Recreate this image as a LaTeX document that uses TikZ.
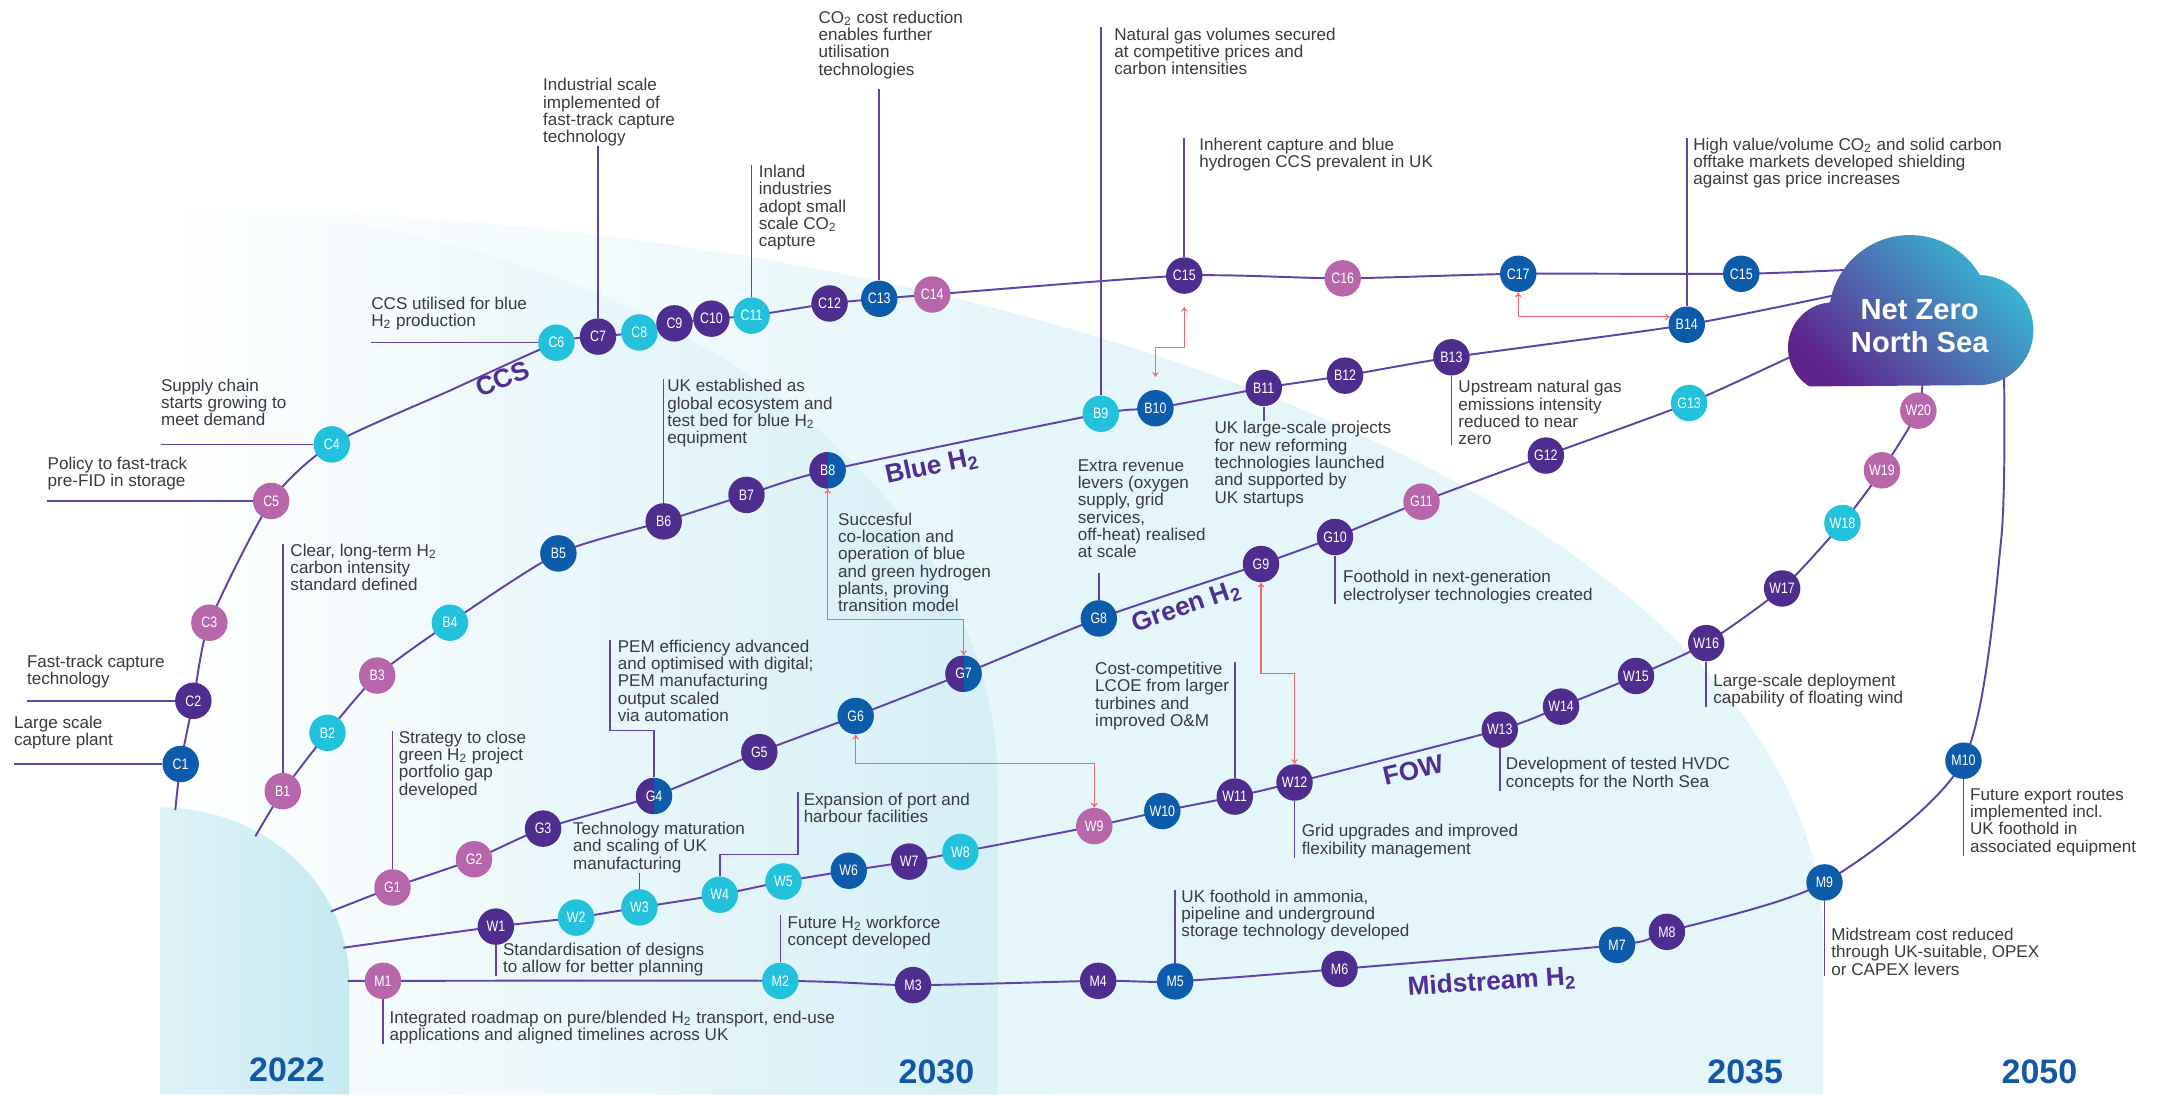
\documentclass[tikz,border=0pt]{standalone}
\usepackage{fontspec}
\setmainfont{Liberation Sans}
\newfontfamily\stopfont[FakeStretch=0.82]{Liberation Sans}
\usetikzlibrary{arrows.meta}

\definecolor{cpurple}{RGB}{79,45,143}
\definecolor{cblue}{RGB}{13,92,171}
\definecolor{ccyan}{RGB}{34,193,220}
\definecolor{cpink}{RGB}{184,102,172}
\definecolor{cline}{RGB}{98,66,168}
\definecolor{cred}{RGB}{240,104,104}
\definecolor{ctext}{RGB}{58,58,64}
\definecolor{clabel}{RGB}{80,46,150}
\definecolor{cyear}{RGB}{20,88,165}
\definecolor{bandA}{RGB}{228,246,250}
\definecolor{bandB}{RGB}{212,239,246}
\definecolor{bandCl}{RGB}{222,243,248}
\definecolor{bandCr}{RGB}{196,234,242}
\definecolor{cloudL}{RGB}{95,35,140}
\definecolor{cloudR}{RGB}{55,190,215}

\pgfdeclarelayer{bg}
\pgfdeclarelayer{rails}
\pgfsetlayers{bg,rails,main}

\tikzset{
  milestone/.style={circle, minimum size=0.66cm, inner sep=0pt, text=white,
    font=\stopfont\fontsize{7.8}{8}\selectfont},
  mpurple/.style={milestone, fill=cpurple},
  mblue/.style={milestone, fill=cblue},
  mcyan/.style={milestone, fill=ccyan},
  mpink/.style={milestone, fill=cpink},
  msplit/.style={milestone, fill=cblue, path picture={
    \fill[cpurple] (path picture bounding box.south west) rectangle (path picture bounding box.north);}},
  txt/.style={anchor=north west, align=left, inner sep=0pt, text=ctext,
    font=\fontsize{8.8}{8.9}\selectfont},
  track/.style={draw=cline, line width=1pt},
  lead/.style={draw=cline, line width=0.8pt},
  link/.style={draw=cred, line width=0.6pt, <->, >={To[length=2.4pt, width=3.4pt]}},
  tracklabel/.style={text=clabel, font=\bfseries\fontsize{13.5}{14}\selectfont},
  year/.style={text=cyear, font=\bfseries\fontsize{17.5}{18}\selectfont},
}

\begin{document}
\begin{tikzpicture}[x=0.025cm, y=-0.025cm]
\useasboundingbox (0,0) rectangle (1568,793);

% horizon bands
\begin{pgfonlayer}{bg}
  \fill[white] (0,0) rectangle (1568,793);
  \fill[bandA] (116,793) -- (116,152) .. controls (781,152) and (1321,389) .. (1321,681) -- (1321,793) -- cycle;
  \begin{scope}
    \clip (116,793) -- (116,152) .. controls (781,152) and (1321,389) .. (1321,681) -- (1321,793) -- cycle;
    \shade[left color=white, right color=bandA] (116,0) rectangle (760,793);
  \end{scope}
  \shade[left color=white, right color=bandB] (116,793) -- (116,151) .. controls (451,151) and (723,339) .. (723,570) -- (723,793) -- cycle;
  \shade[left color=bandCl, right color=bandCr] (116,793) -- (116,585) .. controls (192,585) and (253,641) .. (253,711) -- (253,793) -- cycle;
\end{pgfonlayer}

% cloud
\begin{scope}[shift={(1385,280)}, x=0.025cm, y=0.025cm]
  \shade[left color=cloudL, right color=cloudR, shading angle=135]
    (-73.96,0) arc[start angle=238, end angle=94.4, radius=33]
    arc[start angle=170.2, end angle=30.5, radius=58.8]
    arc[start angle=88.4, end angle=-90, radius=39.9] -- cycle;
\end{scope}
\node[text=white, align=center, font=\bfseries\fontsize{15}{17}\selectfont] (nz) at (1391,236) {Net Zero\\North Sea};

% CCS
\node[mblue] (C1) at (130.9,553.6) {C1};
\node[mpurple] (C2) at (140.1,507.8) {C2};
\node[mpink] (C3) at (151.7,451.2) {C3};
\node[mpink] (C5) at (196.5,363) {C5};
\node[mcyan] (C4) at (240.4,322) {C4};
\node[mcyan] (C6) at (403.2,248.3) {C6};
\node[mpurple] (C7) at (433.3,243.9) {C7};
\node[mcyan] (C8) at (463.3,240.9) {C8};
\node[mpurple] (C9) at (488.7,234.3) {C9};
\node[mpurple] (C10) at (515.5,230.9) {C10};
\node[mcyan] (C11) at (544.6,228.7) {C11};
\node[mpurple] (C12) at (601.1,219.9) {C12};
\node[mblue] (C13) at (637.1,216.5) {C13};
\node[mpink] (C14) at (675.5,213.4) {C14};
\node[mpurple] (C15) at (858.1,199.7) {C15};
\node[mpink] (C16) at (972.9,201.7) {C16};
\node[mblue] (C17) at (1100.1,198.4) {C17};
\node[mblue] (C15b) at (1261.7,198.4) {C15};

% blue hydrogen
\node[mpink] (B1) at (204.9,573.3) {B1};
\node[mcyan] (B2) at (237.3,531) {B2};
\node[mpink] (B3) at (273.3,489.5) {B3};
\node[mcyan] (B4) at (326,451.2) {B4};
\node[mblue] (B5) at (404.6,401) {B5};
\node[mpurple] (B6) at (480.9,377.8) {B6};
\node[mpurple] (B7) at (540.9,358.6) {B7};
\node[msplit] (B8) at (599.7,340.8) {B8};
\node[mcyan] (B9) at (797.6,299.8) {B9};
\node[mblue] (B10) at (837.2,295.8) {B10};
\node[mpurple] (B11) at (915.7,281.1) {B11};
\node[mpurple] (B12) at (974.6,272.2) {B12};
\node[mpurple] (B13) at (1051.7,258.9) {B13};
\node[mblue] (B14) at (1222.2,235.3) {B14};

% green hydrogen
\node[mpink] (G1) at (284.4,643.1) {G1};
\node[mpink] (G2) at (343.5,622.6) {G2};
\node[mpurple] (G3) at (393.5,600.4) {G3};
\node[msplit] (G4) at (473.9,576.8) {G4};
\node[mpurple] (G5) at (550.2,545) {G5};
\node[mblue] (G6) at (620,518.8) {G6};
\node[msplit] (G7) at (698.2,488.2) {G7};
\node[mblue] (G8) at (796.2,448.1) {G8};
\node[mpurple] (G9) at (913.7,408.7) {G9};
\node[mpurple] (G10) at (967.3,389.1) {G10};
\node[mpink] (G11) at (1030,363.5) {G11};
\node[mpurple] (G12) at (1120.1,330.1) {G12};
\node[mcyan] (G13) at (1223.9,292) {G13};

% offshore wind
\node[mpurple] (W1) at (359.3,671.4) {W1};
\node[mcyan] (W2) at (417.5,664.9) {W2};
\node[mcyan] (W3) at (463.3,657.5) {W3};
\node[mcyan] (W4) at (521.5,648.3) {W4};
\node[mcyan] (W5) at (567.7,638.7) {W5};
\node[mblue] (W6) at (615,630.9) {W6};
\node[mpurple] (W7) at (658.8,624.3) {W7};
\node[mcyan] (W8) at (695.9,617.3) {W8};
\node[mpink] (W9) at (792.9,598.6) {W9};
\node[mblue] (W10) at (842.2,587.7) {W10};
\node[mpurple] (W11) at (894.7,577.2) {W11};
\node[mpurple] (W12) at (938,567) {W12};
\node[mpurple] (W13) at (1086.7,528.7) {W13};
\node[mpurple] (W14) at (1131.1,512) {W14};
\node[mpurple] (W15) at (1185.4,489.8) {W15};
\node[mpurple] (W16) at (1236.3,466) {W16};
\node[mpurple] (W17) at (1291.3,426.4) {W17};
\node[mcyan] (W18) at (1335,379) {W18};
\node[mpink] (W19) at (1363.6,340.8) {W19};
\node[mpink] (W20) at (1390,297.6) {W20};

% midstream
\node[mpink] (M1) at (277.5,710.7) {M1};
\node[mcyan] (M2) at (565.4,710.7) {M2};
\node[mpurple] (M3) at (661.6,713.8) {M3};
\node[mpurple] (M4) at (795.7,710.7) {M4};
\node[mblue] (M5) at (851.5,711.1) {M5};
\node[mpurple] (M6) at (970.6,702.1) {M6};
\node[mblue] (M7) at (1171.7,684.7) {M7};
\node[mpurple] (M8) at (1207.8,675.2) {M8};
\node[mblue] (M9) at (1322,639.4) {M9};
\node[mblue] (M10) at (1422.7,551.2) {M10};

\coordinate (sC) at (127,587);
\coordinate (kC) at (326,283);
\coordinate (eC) at (1350,195);
\coordinate (sB) at (185,606);
\coordinate (eB) at (1345,210.6);
\coordinate (sG) at (239.6,660.5);
\coordinate (eG) at (1305,255);
\coordinate (sW) at (248.8,686.7);
\coordinate (eW) at (1393,272);
\coordinate (sM) at (255.7,710.7);
\coordinate (kM) at (1450,391);
\coordinate (eM) at (1452,266);

% notes
\node[txt] (tC1) at (10,518.7) {Large scale\\capture plant};
\node[txt] (tC2) at (19.3,474.4) {Fast-track capture\\technology};
\node[txt] (tC5) at (34.3,330.7) {Policy to fast-track\\pre-FID in storage};
\node[txt] (tC4) at (116.4,274.2) {Supply chain\\starts growing to\\meet demand};
\node[txt] (tC6) at (268.8,214.9) {CCS utilised for blue\\H\textsubscript{2} production};
\node[txt] (tC7) at (393.2,56.5) {Industrial scale\\implemented of\\fast-track capture\\technology};
\node[txt] (tC11) at (549.5,119.5) {Inland\\industries\\adopt small\\scale CO\textsubscript{2}\\capture};
\node[txt] (tC13) at (592.8,7.6) {CO\textsubscript{2} cost reduction\\enables further\\utilisation\\technologies};
\node[txt] (tB9) at (807.2,19.8) {Natural gas volumes secured\\at competitive prices and\\carbon intensities};
\node[txt] (tC15) at (868.8,99.7) {Inherent capture and blue\\hydrogen CCS prevalent in UK};
\node[txt] (tB14) at (1226.7,99.7) {High value/volume CO\textsubscript{2} and solid carbon\\offtake markets developed shielding\\against gas price increases};
\node[txt] (tB1) at (210.2,393.9) {Clear, long-term H\textsubscript{2}\\carbon intensity\\standard defined};
\node[txt] (tB6) at (483.3,274.7) {UK established as\\global ecosystem and\\test bed for blue H\textsubscript{2}\\equipment};
\node[txt] (tB8) at (607,371.4) {Succesful\\co-location and\\operation of blue\\and green hydrogen\\plants, proving\\transition model};
\node[txt] (tG8) at (780.7,332.7) {Extra revenue\\levers (oxygen\\supply, grid\\services,\\off-heat) realised\\at scale};
\node[txt] (tB11) at (879.8,305.2) {UK large-scale projects\\for new reforming\\technologies launched\\and supported by\\UK startups};
\node[txt] (tB13) at (1056.5,275.5) {Upstream natural gas\\emissions intensity\\reduced to near\\zero};
\node[txt] (tG1) at (288.7,529.4) {Strategy to close\\green H\textsubscript{2} project\\portfolio gap\\developed};
\node[txt] (tG4) at (447.4,463.4) {PEM efficiency advanced\\and optimised with digital;\\PEM manufacturing\\output scaled\\via automation};
\node[txt] (tG10) at (972.9,413) {Foothold in next-generation\\electrolyser technologies created};
\node[txt] (tW1) at (364.2,682.9) {Standardisation of designs\\to allow for better planning};
\node[txt] (tW3) at (415,595.4) {Technology maturation\\and scaling of UK\\manufacturing};
\node[txt] (tW4) at (582.1,574.2) {Expansion of port and\\harbour facilities};
\node[txt] (tW11) at (793.3,479.6) {Cost-competitive\\LCOE from larger\\turbines and\\improved O\&M};
\node[txt] (tW12) at (943,597.2) {Grid upgrades and improved\\flexibility management};
\node[txt] (tW13) at (1090.9,548.6) {Development of tested HVDC\\concepts for the North Sea};
\node[txt] (tW16) at (1241.2,488) {Large-scale deployment\\capability of floating wind};
\node[txt] (tM1) at (282,732.2) {Integrated roadmap on pure/blended H\textsubscript{2} transport, end-use\\applications and aligned timelines across UK};
\node[txt] (tM2) at (570.4,663.2) {Future H\textsubscript{2} workforce\\concept developed};
\node[txt] (tM5) at (855.8,644.6) {UK foothold in ammonia,\\pipeline and underground\\storage technology developed};
\node[txt] (tM9) at (1326.7,672.2) {Midstream cost reduced\\through UK-suitable, OPEX\\or CAPEX levers};
\node[txt] (tM10) at (1427.2,571.2) {Future export routes\\implemented incl.\\UK foothold in\\associated equipment};

% track names and years
\node[tracklabel, rotate=22] (lCCS) at (364.2,274.7) {CCS};
\node[tracklabel, rotate=12] (lB) at (675.2,338.3) {Blue H\textsubscript{2}};
\node[tracklabel, rotate=19] (lG) at (859.8,439.9) {Green H\textsubscript{2}};
\node[tracklabel, rotate=13] (lW) at (1024,558) {FOW};
\node[tracklabel, rotate=4] (lM) at (1081,712) {Midstream H\textsubscript{2}};
\node[year] (y22) at (207.9,775.5) {2022};
\node[year] (y30) at (678.5,776.3) {2030};
\node[year] (y35) at (1264.5,776.3) {2035};
\node[year] (y50) at (1477.7,776.3) {2050};

\begin{pgfonlayer}{rails}
  \draw[track] plot[smooth, tension=0.4] coordinates {(sC) (C1) (C2) (C3) (C5) (C4) (kC) (C6) (C7) (C8) (C9) (C10) (C11) (C12) (C13) (C14) (C15) (C16) (C17) (C15b) (eC)};
  \draw[track] plot[smooth, tension=0.4] coordinates {(sB) (B1) (B2) (B3) (B4) (B5) (B6) (B7) (B8) (B9) (B10) (B11) (B12) (B13) (B14) (eB)};
  \draw[track] plot[smooth, tension=0.4] coordinates {(sG) (G1) (G2) (G3) (G4) (G5) (G6) (G7) (G8) (G9) (G10) (G11) (G12) (G13) (eG)};
  \draw[track] plot[smooth, tension=0.4] coordinates {(sW) (W1) (W2) (W3) (W4) (W5) (W6) (W7) (W8) (W9) (W10) (W11) (W12) (W13) (W14) (W15) (W16) (W17) (W18) (W19) (W20) (eW)};
  \draw[track] plot[smooth, tension=0.45] coordinates {(sM) (M1) (M2) (M3) (M4) (M5) (M6) (M7) (M8) (M9) (M10) (kM) (eM)};

  \draw[lead] (C1) -- (C1 -| tC1.west);
  \draw[lead] (C2) -- (C2 -| tC2.west);
  \draw[lead] (C5) -- (C5 -| tC5.west);
  \draw[lead] (C4) -- (C4 -| tC4.west);
  \draw[lead] (C6) -- (C6 -| tC6.west);
  \draw[lead] (C7) -- (C7 |- tC7.south);
  \draw[lead] (C11) -- (C11 |- tC11.north);
  \draw[lead, shorten >=0.18cm] (C13) -- (C13 |- tC13.south);
  \draw[lead] (B9) -- (B9 |- tB9.north);
  \draw[lead] (C15) -- (C15 |- tC15.north);
  \draw[lead] (B14) -- (B14 |- tB14.north);
  \draw[lead] (B1) -- (B1 |- tB1.north);
  \draw[lead] (B6) -- (B6 |- tB6.north);
  \draw[lead] (B11) -- (B11 |- tB11.north);
  \draw[lead] (B13) -- (B13 |- tB13.south);
  \draw[lead, shorten >=0.27cm] (G8) -- (G8 |- tG8.south);
  \draw[lead] (G1) -- (G1 |- tG1.north);
  \draw[lead] (G4) -- ++(0,-47.4) -| ([xshift=-0.14cm]tG4.north west);
  \draw[lead] (G10) -- (G10 |- tG10.south);
  \draw[lead] (W1) -- (W1 |- tW1.south);
  \draw[lead] (W3) -- (W3 |- tW3.south);
  \draw[lead] (W4) -- ++(0,-29.3) -| ([xshift=-0.1cm]tW4.north west);
  \draw[lead] (W11) -- (W11 |- tW11.north);
  \draw[lead] (W12) -- (W12 |- tW12.south);
  \draw[lead] (W13) -- (W13 |- tW13.south);
  \draw[lead] (W16) -- (W16 |- tW16.south);
  \draw[lead] (M1) -- (M1 |- tM1.south);
  \draw[lead] (M2) -- (M2 |- tM2.north);
  \draw[lead] (M5) -- (M5 |- tM5.north);
  \draw[lead] (M9) -- (M9 |- tM9.south);
  \draw[lead] (M10) -- (M10 |- tM10.south);

  \draw[link] (B8.south) -- (B8.south |- 0,449) -| (G7.north);
  \draw[link, shorten <=0.23cm, shorten >=0.23cm] (B10.north) -- (B10.north |- 0,252) -| (C15.south);
  \draw[link] (C17.south) |- (B14.155);
  \draw[link] (G9.south) -- (G9.south |- 0,488) -| (W12.north);
  \draw[link] (G6.south) -- (G6.south |- 0,553) -| (W9.north);
\end{pgfonlayer}
\end{tikzpicture}
\end{document}
